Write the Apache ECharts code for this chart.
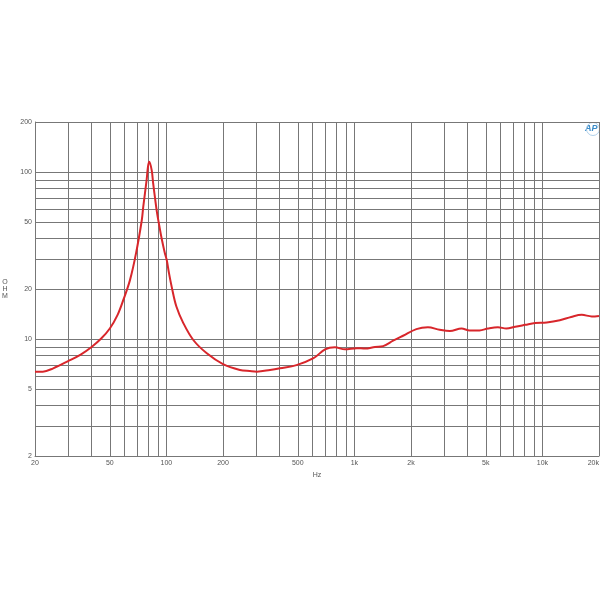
<!DOCTYPE html>
<html>
<head>
<meta charset="utf-8">
<script src="https://cdn.jsdelivr.net/npm/echarts@6/dist/echarts.min.js"></script>
<style>html,body{margin:0;padding:0;background:#fff}#c{width:600px;height:600px}</style>
</head>
<body>
<div id="c"></div>
<script>
var freqHz = [20, 22, 25, 30, 35, 40, 45, 50, 55, 59, 64, 69, 74, 75.3, 78.5, 79.8, 81, 83.5, 85, 87, 89, 91.6, 94.4, 98, 100.4, 103, 106.7, 113, 123, 139, 164, 200, 246, 278, 303, 356, 402, 492, 606, 698, 788, 890, 1030, 1140, 1286, 1422, 1606, 1814, 2136, 2460, 2840, 3220, 3714, 4100, 4630, 5130, 5800, 6430, 7170, 8100, 9140, 10540, 12380, 14220, 16200, 18300, 20000];
var impedanceOhm = [6.4, 6.4, 6.7, 7.4, 8.1, 9.0, 10.1, 11.6, 14.0, 17.2, 22.6, 32.9, 51.8, 62, 90, 108, 115.7, 103, 86, 70, 58, 48, 40, 33, 29.8, 25.2, 20.6, 15.7, 12.5, 9.9, 8.24, 7.1, 6.55, 6.45, 6.4, 6.55, 6.7, 7.0, 7.7, 8.7, 8.95, 8.7, 8.85, 8.8, 9.0, 9.1, 9.8, 10.5, 11.5, 11.8, 11.4, 11.2, 11.6, 11.3, 11.3, 11.6, 11.8, 11.6, 11.9, 12.2, 12.5, 12.6, 13.0, 13.6, 14.0, 13.7, 13.8];
var xGridValues = [20, 30, 40, 50, 60, 70, 80, 90, 100, 200, 300, 400, 500, 600, 700, 800, 900, 1000, 2000, 3000, 4000, 5000, 6000, 7000, 8000, 9000, 10000, 20000];
var xLabelValues = [20, 50, 100, 200, 500, 1000, 2000, 5000, 10000, 20000];
var yGridValues = [2, 3, 4, 5, 6, 7, 8, 9, 10, 20, 30, 40, 50, 60, 70, 80, 90, 100, 200];
var yLabelValues = [2, 5, 10, 20, 50, 100, 200];
var yAxisLetters = ['O', 'H', 'M'];

var chart = echarts.init(document.getElementById('c'), null, {renderer: 'canvas'});
var pts = freqHz.map(function (f, i) { return [f, impedanceOhm[i]]; });
function fmtHz(v) { return v >= 1000 ? (v / 1000) + 'k' : String(v); }
var letterGraphics = yAxisLetters.map(function (ch, i) {
  return {type: 'text', x: 5, y: 282 + i * 7, style: {text: ch, fontSize: 7, fill: '#555', fontFamily: 'Arial, Liberation Sans', align: 'center', verticalAlign: 'middle'}};
});
chart.setOption({
  animation: false,
  grid: {left: 35, top: 122, width: 564, height: 334, containLabel: false, outerBoundsMode: 'none'},
  xAxis: {
    type: 'log', logBase: 10, min: 20, max: 20000,
    name: 'Hz', nameLocation: 'middle', nameGap: 14,
    nameTextStyle: {fontSize: 7, color: '#555', fontFamily: 'Arial, Liberation Sans'},
    axisLine: {show: true, lineStyle: {color: '#777', width: 1}},
    axisTick: {show: false, customValues: xGridValues},
    axisLabel: {customValues: xLabelValues, fontSize: 7, color: '#555', margin: 4, fontFamily: 'Arial, Liberation Sans', formatter: fmtHz, alignMaxLabel: 'right'},
    splitLine: {show: true, lineStyle: {color: '#777', width: 1}},
    minorTick: {show: false}, minorSplitLine: {show: false}
  },
  yAxis: {
    type: 'log', logBase: 10, min: 2, max: 200,
    axisLine: {show: true, lineStyle: {color: '#777', width: 1}},
    axisTick: {show: false, customValues: yGridValues},
    axisLabel: {customValues: yLabelValues, fontSize: 7, color: '#555', margin: 3, fontFamily: 'Arial, Liberation Sans'},
    splitLine: {show: true, lineStyle: {color: '#777', width: 1}}
  },
  graphic: letterGraphics.concat([
    {type: 'text', left: 585, top: 124, style: {text: 'AP', fontSize: 9, fontStyle: 'italic', fontWeight: 'bold', fill: '#3b8cc9', fontFamily: 'Arial, Liberation Sans'}},
    {type: 'circle', shape: {cx: 593, cy: 129, r: 6.5}, style: {fill: 'none', stroke: '#9cc4e4', lineWidth: 0.8}}
  ]),
  series: [{
    type: 'line', data: pts, showSymbol: false, smooth: 0.35,
    lineStyle: {color: '#d8262b', width: 2}
  }]
});
</script>
</body>
</html>
